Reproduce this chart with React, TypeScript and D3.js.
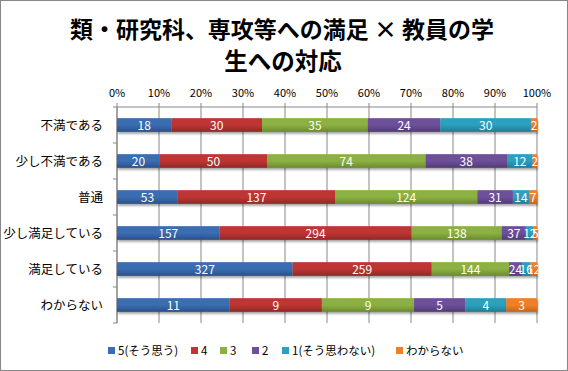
import * as d3 from "d3";
import { useEffect } from "react";

const categories = ["不満である", "少し不満である", "普通", "少し満足している", "満足している", "わからない"];
const seriesNames = ["5(そう思う)", "4", "3", "2", "1(そう思わない)", "わからない"];

const s5 = [18, 20, 53, 157, 327, 11];
const s4 = [30, 50, 137, 294, 259, 9];
const s3 = [35, 74, 124, 138, 144, 9];
const s2 = [24, 38, 31, 37, 24, 5];
const s1 = [30, 12, 14, 12, 16, 4];
const sNA = [2, 2, 7, 5, 12, 3];

const ticks = [0, 0.1, 0.2, 0.3, 0.4, 0.5, 0.6, 0.7, 0.8, 0.9, 1];

// [top, bottom] gradient colours per series
const colors: [string, string][] = [
  ["#3a6db2", "#2b5088"],
  ["#be3634", "#8f2826"],
  ["#8cb142", "#6a8a30"],
  ["#6e4f9a", "#533a76"],
  ["#2d9fbf", "#227a93"],
  ["#ee8125", "#c4651a"],
];

const font = "'Noto Sans CJK JP', 'Noto Sans', sans-serif";

export default function App() {
  useEffect(() => {
    document.body.style.margin = "0";
  }, []);

  const W = 568;
  const H = 371;
  const series = [s5, s4, s3, s2, s1, sNA];

  const x = d3.scaleLinear().domain([0, 1]).range([117, 537]);
  const y = d3.scaleBand().domain(categories).range([107, 323]).paddingInner(0.62).paddingOuter(0.31);

  const rows = categories.map((c, i) => {
    const vals = series.map((s) => s[i]);
    const total = d3.sum(vals);
    let acc = 0;
    return vals.map((v, k) => {
      const x0 = acc / total;
      acc += v;
      return { cat: c, k, v, x0, x1: acc / total };
    });
  });

  const legendX = [108, 191, 220, 252, 282, 396];

  return (
    <svg width={W} height={H} style={{ display: "block", fontFamily: font }}>
      <defs>
        {colors.map((c, k) => (
          <linearGradient key={k} id={"g" + k} x1="0" y1="0" x2="0" y2="1">
            <stop offset="0" stopColor={c[0]} />
            <stop offset="0.5" stopColor={c[0]} />
            <stop offset="1" stopColor={c[1]} />
          </linearGradient>
        ))}
        <filter id="sh" x="-5%" y="-50%" width="110%" height="200%">
          <feGaussianBlur stdDeviation="1.2" />
        </filter>
        <clipPath id="plot">
          <rect x={117} y={100} width={421} height={230} />
        </clipPath>
      </defs>
      <rect x={0.5} y={0.5} width={W - 1} height={H - 1} fill="#fff" stroke="#878787" />

      <text x={282} y={38} textAnchor="middle" fontSize={23} fontWeight="bold" fill="#000"
        textLength={424} lengthAdjust="spacingAndGlyphs">
        類・研究科、専攻等への満足 × 教員の学
      </text>
      <text x={283} y={70} textAnchor="middle" fontSize={23.5} fontWeight="bold" fill="#000">
        生への対応
      </text>

      {/* gridlines */}
      {ticks.map((t) => (
        <line key={t} x1={x(t)} x2={x(t)} y1={103} y2={323} stroke="#878787" strokeWidth={1} />
      ))}
      <line x1={117} x2={537} y1={107} y2={107} stroke="#878787" />
      {ticks.map((t) => (
        <text key={"t" + t} x={x(t)} y={97} textAnchor="middle" fontSize={11} fill="#000">
          {Math.round(t * 100)}%
        </text>
      ))}

      {/* left axis */}
      <line x1={117} x2={117} y1={107} y2={323} stroke="#878787" />
      {d3.range(categories.length + 1).map((i) => (
        <line key={"lt" + i} x1={113} x2={117} y1={107 + i * y.step()} y2={107 + i * y.step()} stroke="#878787" />
      ))}
      {categories.map((c) => (
        <text key={c} x={103} y={y(c)! + y.bandwidth() / 2 + 4.5} textAnchor="end" fontSize={12.5} fill="#000">
          {c}
        </text>
      ))}

      {/* bars */}
      {rows.map((r, i) => (
        <g key={i}>
          <rect
            x={x(0) + 1}
            y={y(categories[i])! + 2}
            width={x(1) - x(0)}
            height={y.bandwidth()}
            fill="#000"
            opacity={0.35}
            filter="url(#sh)"
          />
          {r.map((d) => (
            <rect
              key={d.k}
              x={x(d.x0)}
              y={y(d.cat)!}
              width={x(d.x1) - x(d.x0)}
              height={y.bandwidth()}
              fill={`url(#g${d.k})`}
            />
          ))}
          <g clipPath="url(#plot)">
            {r.map((d) => (
              <text
                key={"l" + d.k}
                x={(x(d.x0) + x(d.x1)) / 2}
                y={y(d.cat)! + y.bandwidth() / 2 + 4.5}
                textAnchor="middle"
                fontSize={12}
                fill="#fff"
              >
                {d.v}
              </text>
            ))}
          </g>
        </g>
      ))}

      {/* legend */}
      {seriesNames.map((n, k) => (
        <g key={n} transform={`translate(${legendX[k]},351)`}>
          <rect x={0} y={-4} width={7} height={7} fill={colors[k][0]} />
          <text x={10} y={4} fontSize={11.5} fill="#000">
            {n}
          </text>
        </g>
      ))}
    </svg>
  );
}
